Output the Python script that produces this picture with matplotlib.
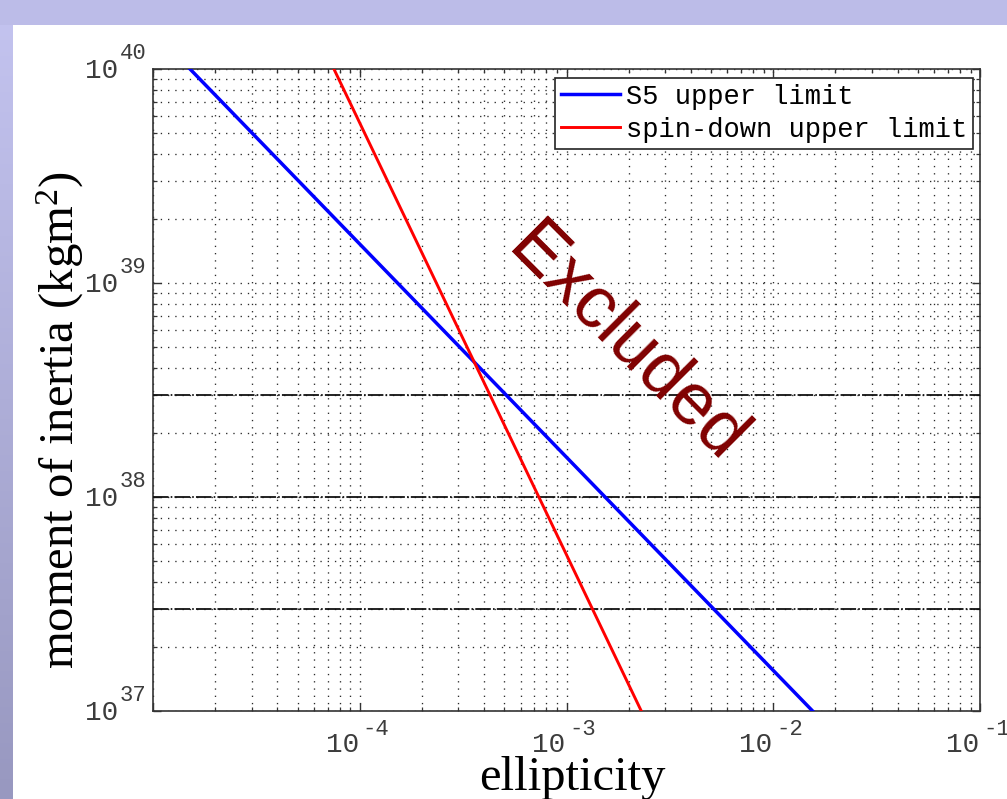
import numpy as np
import matplotlib
matplotlib.use('Agg')
import matplotlib.pyplot as plt
from matplotlib.patches import Rectangle

# values
inertia_ends = [1e37, 1e40]              # kg m^2
s5_limit = [1.55e-2, 1.51e-5]            # ellipticity at the two ends
spindown_limit = [2.3e-3, 7.5e-5]
ref_inertia = [3e37, 1e38, 3e38]         # dashed reference levels
x_decades = [-4, -3, -2, -1]
y_decades = [37, 38, 39, 40]

plt.rcParams['mathtext.fontset'] = 'custom'
plt.rcParams['mathtext.rm'] = 'Liberation Serif'
plt.rcParams['mathtext.it'] = 'Liberation Serif:italic'

W, H = 1007, 799
fig = plt.figure(figsize=(W / 100, H / 100), dpi=100)
fig.patch.set_facecolor('white')

# slide-like background: lavender band on top, gradient strip on the left
bg = fig.add_axes([0, 0, 1, 1], zorder=-10)
bg.set_xlim(0, W)
bg.set_ylim(H, 0)
bg.axis('off')
grad = np.linspace(0, 1, 200)[:, None, None]
top_c = np.array([196, 196, 240]) / 255
bot_c = np.array([152, 152, 192]) / 255
bg.imshow(top_c + (bot_c - top_c) * grad, extent=[0, 13, H, 0], aspect='auto')
bg.add_patch(Rectangle((0, 0), W, 25, color='#bcbce8', lw=0))

ax = fig.add_axes([153 / W, 1 - 711 / H, 827 / W, 642 / H])
ax.set_xscale('log')
ax.set_yscale('log')
ax.set_xlim(1e-5, 1e-1)
ax.set_ylim(1e37, 1e40)

ax.plot(s5_limit, inertia_ends, color='#0000ff', lw=2.5, label='S5 upper limit', zorder=4)
ax.plot(spindown_limit, inertia_ends, color='#ff0000', lw=2.1, label='spin-down upper limit', zorder=4)
for v in ref_inertia:
    ax.axhline(v, color='#111111', lw=1.3, dashes=(8.6, 1.2, 0.9, 1.2), zorder=3)

ax.grid(True, which='both', color='#2a2a2a', lw=0.95, linestyle=(0, (1, 4.5)))
ax.tick_params(which='both', direction='in', top=True, right=True, color='#333333',
               labelbottom=False, labelleft=False)
ax.tick_params(which='major', length=6, width=1.0)
ax.tick_params(which='minor', length=3, width=0.9)
for s in ax.spines.values():
    s.set_color('#333333')
    s.set_linewidth(1.2)

# MATLAB-style tick labels: "10" with raised exponent
px = 0.72
tick_font = dict(family='Liberation Mono', color='#3c3c3c')
for d in x_decades:
    ax.annotate('10', xy=(10.0 ** d, 0), xycoords=('data', 'axes fraction'),
                xytext=(-1 * px, -41 * px), textcoords='offset points',
                ha='right', va='baseline', fontsize=20, **tick_font)
    ax.annotate(str(d), xy=(10.0 ** d, 0), xycoords=('data', 'axes fraction'),
                xytext=(3 * px, -24 * px), textcoords='offset points',
                ha='left', va='baseline', fontsize=16, annotation_clip=False, **tick_font)
for d in y_decades:
    ax.annotate('10', xy=(0, 10.0 ** d), xycoords=('axes fraction', 'data'),
                xytext=(-35 * px, -9 * px), textcoords='offset points',
                ha='right', va='baseline', fontsize=20, **tick_font)
    ax.annotate(str(d), xy=(0, 10.0 ** d), xycoords=('axes fraction', 'data'),
                xytext=(-33 * px, 10 * px), textcoords='offset points',
                ha='left', va='baseline', fontsize=16, **tick_font)

leg = ax.legend(loc='upper right', bbox_to_anchor=(0.9915, 0.986), borderaxespad=0,
                prop={'family': 'Liberation Mono', 'size': 19.5}, frameon=True,
                fancybox=False, edgecolor='#222222', framealpha=1,
                handlelength=2.2, handletextpad=0.2, borderpad=0.22, labelspacing=0.25)
leg.get_frame().set_linewidth(1.2)

ax.text(0.572, 0.572, 'Excluded', transform=ax.transAxes, rotation=-45,
        rotation_mode='anchor', ha='center', va='center',
        fontsize=53, family='Liberation Sans', color='#800000', zorder=5)

fig.text(60 / W, 1 - 420 / H, 'moment of inertia (kgm$^2$)', rotation=90,
         ha='center', va='center', fontsize=35, family='Liberation Serif')
fig.text(572 / W, 1 - 790 / H, 'ellipticity', ha='center', va='baseline',
         fontsize=35, family='Liberation Serif')

fig.savefig('out.png', dpi=100)
